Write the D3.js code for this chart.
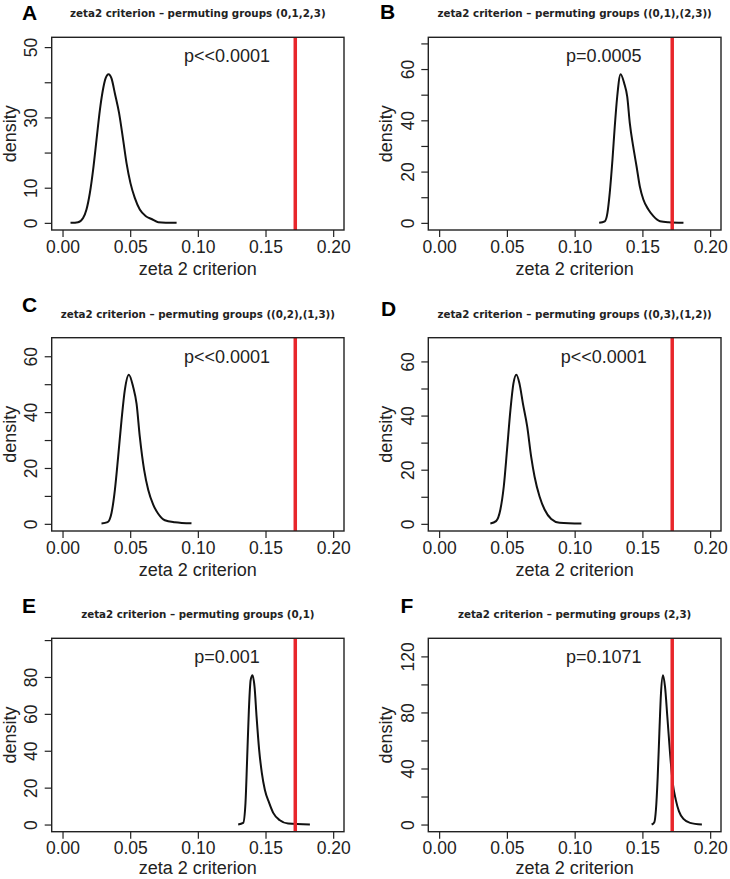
<!DOCTYPE html>
<html>
<head>
<meta charset="utf-8">
<script src="https://cdn.jsdelivr.net/npm/d3@7"></script>
<style>
  html, body { margin: 0; padding: 0; background: #fff; }
  svg { display: block; }
</style>
</head>
<body>
<svg id="chart" width="730" height="879"></svg>
<script>
// ---------------- DATA ----------------
const panelLabels = ["A", "B", "C", "D", "E", "F"];
const panelTitles = [
  "zeta2 criterion \u2013 permuting groups (0,1,2,3)",
  "zeta2 criterion \u2013 permuting groups ((0,1),(2,3))",
  "zeta2 criterion \u2013 permuting groups ((0,2),(1,3))",
  "zeta2 criterion \u2013 permuting groups ((0,3),(1,2))",
  "zeta2 criterion \u2013 permuting groups (0,1)",
  "zeta2 criterion \u2013 permuting groups (2,3)"
];
const pValueTexts = ["p<<0.0001", "p=0.0005", "p<<0.0001", "p<<0.0001", "p=0.001", "p=0.1071"];
const observedZeta = 0.172;
const xLabel = "zeta 2 criterion";
const yLabel = "density";
const xTicks = [0.00, 0.05, 0.10, 0.15, 0.20];
const yTickSteps = [10, 10, 10, 10, 20, 20];
const yTickLabels = [
  [0, 10, 30, 50],
  [0, 20, 40, 60],
  [0, 20, 40, 60],
  [0, 20, 40, 60],
  [0, 20, 40, 60, 80],
  [0, 40, 80, 120]
];

// density curves (x = zeta 2 criterion, y = density)
const densA_x = [0.0059, 0.0115, 0.0152, 0.0177, 0.0202, 0.0226, 0.0251, 0.0276, 0.0296, 0.0318, 0.0340, 0.0362, 0.0387, 0.0418, 0.0448, 0.0473, 0.0502, 0.0534, 0.0571, 0.0616, 0.0658, 0.0707, 0.0843];
const densA_y = [0.0, 0.2, 1.4, 3.8, 8.5, 15.1, 23.6, 32.1, 37.3, 41.1, 42.3, 41.1, 36.8, 31.2, 23.6, 17.0, 11.3, 7.1, 3.8, 1.9, 1.1, 0.2, 0.0];

const densB_x = [0.1181, 0.1222, 0.1242, 0.1259, 0.1279, 0.1296, 0.1314, 0.1339, 0.1366, 0.1388, 0.1407, 0.1432, 0.1457, 0.1481, 0.1507, 0.1544, 0.1581, 0.1630, 0.1692, 0.1803];
const densB_y = [0.0, 0.6, 3.9, 11.7, 24.6, 37.6, 49.2, 58.0, 54.4, 49.2, 38.9, 29.8, 22.0, 14.2, 9.1, 5.2, 2.6, 0.6, 0.2, 0.0];

const densC_x = [0.0288, 0.0333, 0.0362, 0.0387, 0.0411, 0.0436, 0.0460, 0.0490, 0.0522, 0.0547, 0.0571, 0.0603, 0.0633, 0.0670, 0.0707, 0.0756, 0.0830, 0.0953];
const densC_y = [0.1, 0.6, 3.9, 12.2, 24.0, 37.1, 47.8, 53.4, 49.0, 43.0, 31.2, 19.3, 12.2, 6.9, 3.6, 1.3, 0.6, 0.2];

const densD_x = [0.0378, 0.0420, 0.0452, 0.0477, 0.0501, 0.0526, 0.0548, 0.0570, 0.0593, 0.0618, 0.0650, 0.0679, 0.0704, 0.0741, 0.0778, 0.0827, 0.0889, 0.1050];
const densD_y = [0.1, 1.0, 5.3, 13.8, 27.3, 42.0, 51.8, 55.1, 51.8, 44.5, 35.9, 24.8, 17.5, 10.1, 5.3, 1.8, 0.4, 0.1];

const densE_x = [0.1298, 0.1335, 0.1352, 0.1364, 0.1377, 0.1390, 0.1404, 0.1419, 0.1434, 0.1453, 0.1473, 0.1495, 0.1527, 0.1557, 0.1606, 0.1667, 0.1828];
const densE_y = [0.0, 0.9, 11.7, 35.1, 62.0, 78.2, 80.9, 74.6, 58.4, 40.5, 27.9, 18.9, 11.7, 6.3, 2.3, 0.5, 0.0];

const densF_x = [0.1568, 0.1588, 0.1600, 0.1613, 0.1625, 0.1637, 0.1652, 0.1667, 0.1684, 0.1704, 0.1724, 0.1746, 0.1770, 0.1803, 0.1852, 0.1939];
const densF_y = [0.0, 1.7, 10.7, 34.3, 65.1, 93.5, 106.5, 98.2, 76.9, 50.9, 29.6, 17.8, 9.4, 4.0, 1.2, 0.0];

const curvesX = [densA_x, densB_x, densC_x, densD_x, densE_x, densF_x];
const curvesY = [densA_y, densB_y, densC_y, densD_y, densE_y, densF_y];

// ---------------- LAYOUT ----------------
const W = 730, H = 879;
const colBox = [{l: 51.7, r: 344}, {l: 428.3, r: 721}];
const rowBox = [{t: 37.3, b: 230}, {t: 337.7, b: 531}, {t: 638.3, b: 831.7}];
const labelPos = [
  {x: 22, y: 19.5}, {x: 380, y: 19},
  {x: 22, y: 312}, {x: 381, y: 315.5},
  {x: 22, y: 612.5}, {x: 400.5, y: 612.5}
];

const axisFont = "'Liberation Sans', Arial, Helvetica, sans-serif";
const svg = d3.select("#chart");

panelLabels.forEach((lab, i) => {
  const c = colBox[i % 2], r = rowBox[Math.floor(i / 2)];
  const xs = curvesX[i], ys = curvesY[i];
  const yMax = 1.2 * d3.max(ys);
  const xLo = 0, xHi = 0.2;
  const xPad = 0.04 * (xHi - xLo), yPad = 0.04 * yMax;

  const x = d3.scaleLinear().domain([xLo - xPad, xHi + xPad]).range([c.l, c.r]);
  const y = d3.scaleLinear().domain([-yPad, yMax + yPad]).range([r.b, r.t]);

  const g = svg.append("g");

  // density curve
  const pts = xs.map((v, k) => [v, ys[k]]);
  g.append("path")
    .datum(pts)
    .attr("fill", "none")
    .attr("stroke", "#111")
    .attr("stroke-width", 2)
    .attr("stroke-linejoin", "round")
    .attr("d", d3.line().x(d => x(d[0])).y(d => y(d[1])).curve(d3.curveMonotoneX));

  // observed value line
  g.append("line")
    .attr("x1", x(observedZeta)).attr("x2", x(observedZeta))
    .attr("y1", r.t).attr("y2", r.b)
    .attr("stroke", "#e8262b").attr("stroke-width", 3.5);

  // box
  g.append("rect")
    .attr("x", c.l).attr("y", r.t)
    .attr("width", c.r - c.l).attr("height", r.b - r.t)
    .attr("fill", "none").attr("stroke", "#222").attr("stroke-width", 1.4);

  // x axis
  const xAxis = d3.axisBottom(x).tickValues(xTicks).tickSize(7).tickSizeOuter(0).tickPadding(0)
    .tickFormat(d3.format(".2f"));
  const gx = g.append("g").attr("transform", `translate(0,${r.b})`).call(xAxis);
  gx.select(".domain").remove();
  gx.selectAll(".tick line").attr("stroke", "#222").attr("stroke-width", 1.2);
  gx.selectAll(".tick text")
    .attr("y", 22.7).attr("dy", null)
    .attr("font-family", axisFont).attr("font-size", 17.5).attr("fill", "#222");

  // y axis
  const step = yTickSteps[i];
  const yTicks = d3.range(0, yMax + yPad + 1e-9, step);
  const labelled = yTickLabels[i];
  const yAxis = d3.axisLeft(y).tickValues(yTicks).tickSize(7).tickSizeOuter(0)
    .tickFormat(d => labelled.includes(d) ? d3.format("d")(d) : "");
  const gy = g.append("g").attr("transform", `translate(${c.l},0)`).call(yAxis);
  gy.select(".domain").remove();
  gy.selectAll(".tick line").attr("stroke", "#222").attr("stroke-width", 1.2);
  gy.selectAll(".tick text")
    .attr("x", null).attr("dy", null)
    .attr("transform", "translate(-14.7,0) rotate(-90)")
    .attr("text-anchor", "middle")
    .attr("font-family", axisFont).attr("font-size", 17.5).attr("fill", "#222");

  // axis titles
  g.append("text")
    .attr("x", (c.l + c.r) / 2).attr("y", Math.min(r.b + 45.3, H - 5))
    .attr("text-anchor", "middle")
    .attr("font-family", axisFont).attr("font-size", 18).attr("fill", "#222")
    .text(xLabel);
  g.append("text")
    .attr("transform", `translate(${c.l - 36},${(r.t + r.b) / 2}) rotate(-90)`)
    .attr("text-anchor", "middle")
    .attr("font-family", axisFont).attr("font-size", 18).attr("fill", "#222")
    .text(yLabel);

  // p-value annotation
  g.append("text")
    .attr("x", x(0.1215)).attr("y", y(0.9 * yMax))
    .attr("text-anchor", "middle")
    .attr("font-family", axisFont).attr("font-size", 18).attr("fill", "#222")
    .text(pValueTexts[i]);

  // title
  g.append("text")
    .attr("x", (c.l + c.r) / 2).attr("y", r.t - 20)
    .attr("text-anchor", "middle")
    .attr("font-family", "'DejaVu Sans', sans-serif").attr("font-weight", "bold")
    .attr("font-size", 10.3).attr("fill", "#222")
    .text(panelTitles[i]);

  // panel label
  svg.append("text")
    .attr("x", labelPos[i].x).attr("y", labelPos[i].y)
    .attr("font-family", axisFont).attr("font-weight", "bold")
    .attr("font-size", 21).attr("fill", "#000")
    .text(lab);
});
</script>
</body>
</html>
